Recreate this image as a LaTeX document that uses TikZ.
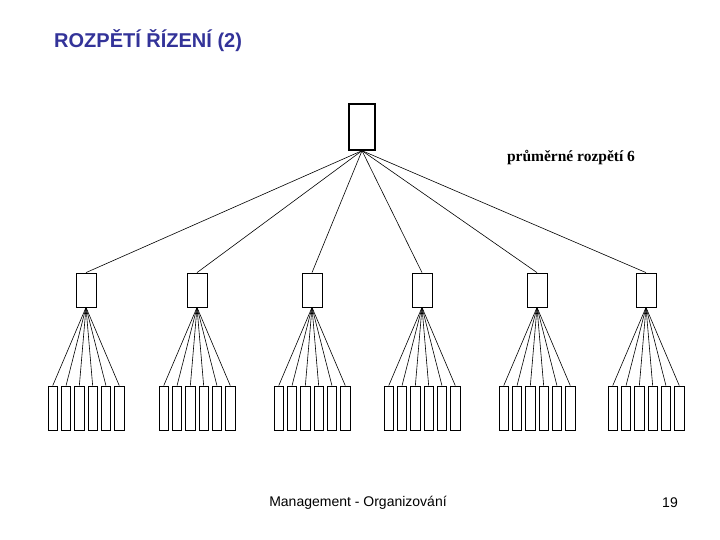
\documentclass[tikz,border=0pt]{standalone}
\usepackage{fontspec}
\setmainfont{Liberation Sans}
\newfontfamily\myserif{Liberation Serif}
\definecolor{titleblue}{HTML}{333399}
\begin{document}
\begin{tikzpicture}[x=1pt,y=-1pt,
  topbox/.style={draw,line width=1.4pt,minimum width=26pt,minimum height=46pt,inner sep=0pt},
  midbox/.style={draw,line width=0.8pt,minimum width=20pt,minimum height=34pt,inner sep=0pt},
  leafbox/.style={draw,line width=0.8pt,minimum width=9.5pt,minimum height=44pt,inner sep=0pt},
  conn/.style={line width=0.6pt}]
\path[use as bounding box] (0,0) rectangle (720,540);
\node[anchor=west,inner sep=0pt,text=titleblue,font=\fontsize{20}{22}\selectfont\bfseries] (title) at (54,41) {ROZPĚTÍ ŘÍZENÍ (2)};
\node[font=\myserif\fontsize{15.5}{17}\selectfont\bfseries] (avg) at (571,158) {průměrné rozpětí 6};
\node[font=\fontsize{14}{16}\selectfont] (foot) at (358,503) {Management - Organizování};
\node[font=\fontsize{14}{16}\selectfont] (num) at (670,503) {19};
\node[topbox] (top) at (362,127) {};
\foreach \c [count=\i] in {86,197,312,422,537,646}{
  \node[midbox] (m\i) at (\c,290) {};
  \draw[conn] (top.south) -- (m\i.north);
  \foreach \j in {0,...,5}{
    \node[leafbox] (b\i-\j) at ({\c+(\j-2.5)*13.3},408) {};
    \draw[conn] (m\i.south) -- (b\i-\j.north);
  }
}
\end{tikzpicture}
\end{document}
